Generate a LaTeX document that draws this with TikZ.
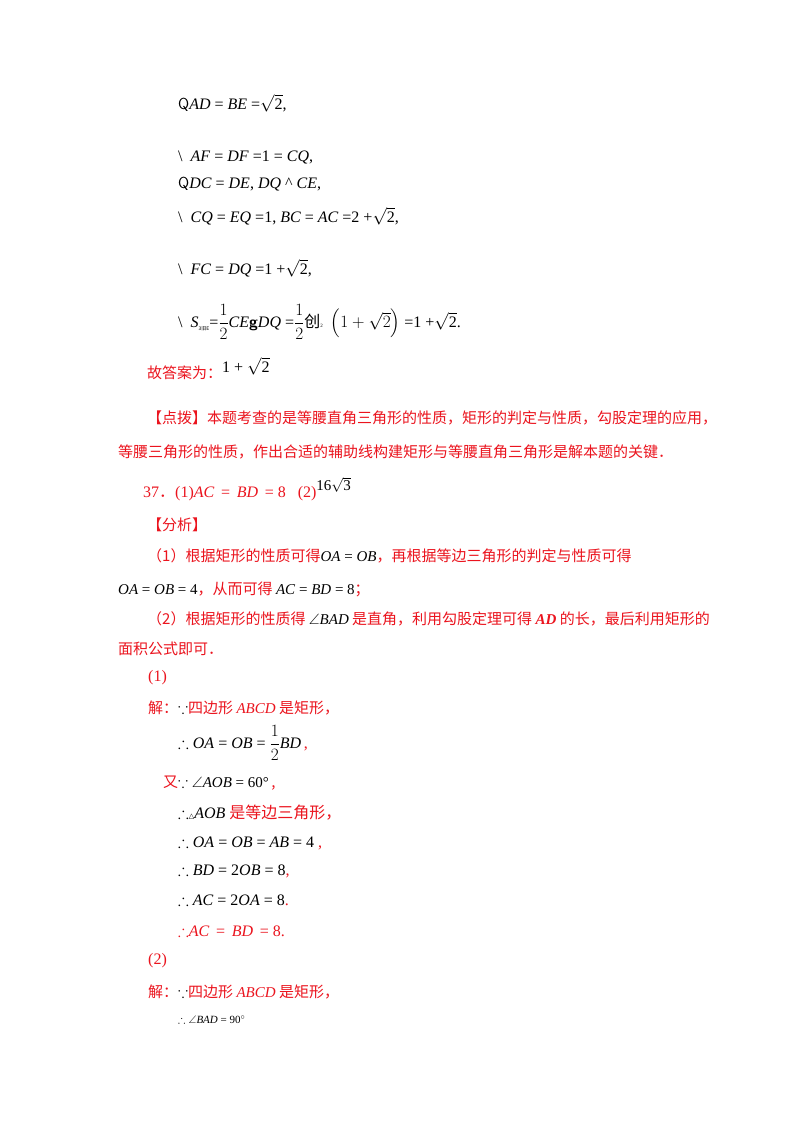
\documentclass[tikz,border=0pt]{standalone}
\usepackage{amssymb}
\usepackage{fontspec}
\setmainfont{Liberation Serif}
\newfontfamily\cjk{Noto Sans CJK SC}
\newfontfamily\dv{DejaVu Sans}
\definecolor{rd}{RGB}{235,20,30}
\newcommand{\mi}[1]{\textit{#1}}
\newcommand{\rt}[1]{$\sqrt{\mbox{#1}}$}
\newcommand{\hf}{$\displaystyle\frac{1}{2}$}
\begin{document}
\begin{tikzpicture}[x=1pt,y=-1pt,
  t/.style={anchor=west,inner sep=0pt,font=\fontsize{16}{18}\selectfont},
  c/.style={t,font=\fontsize{15}{18}\selectfont\cjk},
  r/.style={c,text=rd}]
\useasboundingbox (0,0) rectangle (800,1132);
\fill[white] (0,0) rectangle (800,1132);
\node[t] (l1) at (178,103) {{\sffamily Q}\mi{AD} = \mi{BE} =\rt{2},};
\node[t] (l2) at (178,157) {\textbackslash\ \ \mi{AF} = \mi{DF} =1 = \mi{CQ},};
\node[t] (l3) at (178,184) {{\sffamily Q}\mi{DC} = \mi{DE}, \mi{DQ} \^{} \mi{CE},};
\node[t] (l4) at (178,216) {\textbackslash\ \ \mi{CQ} = \mi{EQ} =1, \mi{BC} = \mi{AC} =2 +\rt{2},};
\node[t] (l5) at (178,268) {\textbackslash\ \ \mi{FC} = \mi{DQ} =1 +\rt{2},};
\node[t] (l6) at (178,322) {\textbackslash\ \ \mi{S}{\tiny\raisebox{-3pt}{\cjk 3旧E}}=\hf\mi{CE}{\bfseries\sffamily g}\mi{DQ} =\hf{\cjk 创}{\tiny 2}\ \ $\left(1+\sqrt{2}\right)$ =1 +\rt{2}.};
\node[r] (l7) at (147,373) {故答案为：};
\node[t] (l7b) at (222,366) {1 + \rt{2}};
\node[r] (l8) at (147,418) {【点拨】本题考查的是等腰直角三角形的性质，矩形的判定与性质，勾股定理的应用，};
\node[r] (l9) at (118,452) {等腰三角形的性质，作出合适的辅助线构建矩形与等腰直角三角形是解本题的关键．};
\node[t,text=rd] (l10) at (143,489) {37{\cjk ．}(1)\mi{AC} \,=\, \mi{BD} \,= 8 \ \ (2)\raisebox{7pt}{\textcolor{black}{\fontsize{15}{18}\selectfont 16\rt{3}}}};
\node[r] (l11) at (147,525) {【分析】};
\node[r] (l12) at (147,556) {（1）根据矩形的性质可得\textcolor{black}{\fontspec{Liberation Serif}\mi{OA} = \mi{OB}}，再根据等边三角形的判定与性质可得};
\node[r] (l13) at (118,589) {\textcolor{black}{\fontspec{Liberation Serif}\mi{OA} = \mi{OB} = 4}，从而可得 \textcolor{black}{\fontspec{Liberation Serif}\mi{AC} = \mi{BD} = 8}；};
\node[r] (l14) at (147,619) {（2）根据矩形的性质得 \textcolor{black}{\fontspec{Liberation Serif}$\angle$\mi{BAD}} 是直角，利用勾股定理可得 {\fontspec{Liberation Serif}\bfseries\mi{AD}} 的长，最后利用矩形的};
\node[r] (l15) at (118,649) {面积公式即可．};
\node[t,text=rd] (l16) at (148,678) {(1)};
\node[r] (l17) at (148,708) {解：\textcolor{black}{$\because$}四边形 {\fontspec{Liberation Serif}\mi{ABCD}} 是矩形，};
\node[t] (l18) at (178,743) {$\therefore$ \mi{OA} = \mi{OB} = \hf\mi{BD}\textcolor{rd}{\,,}};
\node[r] (l19) at (163,783) {又\textcolor{black}{\fontspec{Liberation Serif}$\because$ $\angle$\mi{AOB} = 60°}\,,};
\node[t] (l20) at (178,813) {$\therefore${\scriptsize\dv △}\mi{AOB} \textcolor{rd}{\cjk 是等边三角形，}};
\node[t] (l21) at (178,843) {$\therefore$ \mi{OA} = \mi{OB} = \mi{AB} = 4 \textcolor{rd}{,}};
\node[t] (l22) at (178,871) {$\therefore$ \mi{BD} = 2\mi{OB} = 8\textcolor{rd}{,}};
\node[t] (l23) at (178,900) {$\therefore$ \mi{AC} = 2\mi{OA} = 8\textcolor{rd}{.}};
\node[t,text=rd] (l24) at (178,931) {$\therefore$\mi{AC} \,=\, \mi{BD} \,= 8.};
\node[t,text=rd] (l25) at (148,961) {(2)};
\node[r] (l26) at (148,992) {解：\textcolor{black}{$\because$}四边形 {\fontspec{Liberation Serif}\mi{ABCD}} 是矩形，};
\node[t,font=\fontsize{11}{13}\selectfont] (l27) at (178,1020) {$\therefore\angle$\mi{BAD} = 90$^\circ$};
\end{tikzpicture}
\end{document}
